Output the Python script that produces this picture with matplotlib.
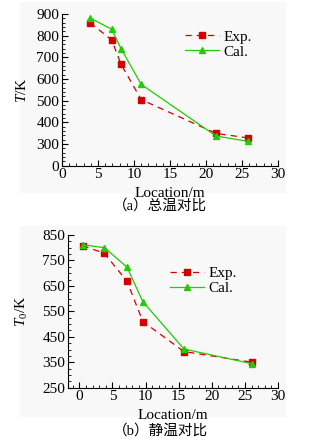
import matplotlib
matplotlib.use("Agg")
import matplotlib.pyplot as plt
from matplotlib.patches import Rectangle
from matplotlib.ticker import MultipleLocator

plt.rcParams['font.family'] = ['Liberation Serif', 'Noto Sans CJK SC']
plt.rcParams['mathtext.fontset'] = 'custom'
plt.rcParams['mathtext.it'] = 'Liberation Serif:italic'
plt.rcParams['mathtext.rm'] = 'Liberation Serif'

# (a) total temperature
a_x = [3.9, 6.9, 8.2, 11.0, 21.4, 25.9]
a_exp = [860, 780, 668, 505, 349, 328]
a_cal = [881, 830, 740, 575, 337, 312]
a_yticks = [200, 300, 400, 500, 600, 700, 800, 900]
a_ylabels = ['0', '300', '400', '500', '600', '700', '800', '900']

# (b) static temperature
b_x = [0.5, 3.8, 7.2, 9.6, 15.8, 26.1]
b_exp = [808, 778, 668, 510, 392, 350]
b_cal = [812, 800, 724, 588, 402, 344]
b_yticks = [250, 350, 450, 550, 650, 750, 850]

xticks = [0, 5, 10, 15, 20, 25, 30]

fig = plt.figure(figsize=(3.2, 4.42), dpi=100)

#light grey panels behind each plot
for y0 in [1 - 192/442, 1 - 416/442]:
	fig.patches.append(Rectangle((20/320, y0), 265/320, 190/442,
		transform=fig.transFigure, color='#f8f8f8', zorder=-1))

ax1 = fig.add_axes([62/320, 276.3/442, 216/320, 151.7/442])
ax2 = fig.add_axes([68/320, 54.3/442, 210/320, 152.7/442])

def style(ax, yminor):
	ax.set_facecolor('none')
	ax.spines['top'].set_visible(False)
	ax.spines['right'].set_visible(False)
	ax.tick_params(which='both', direction='in', labelsize=11, pad=2)
	ax.tick_params(which='major', length=4)
	ax.tick_params(which='minor', length=2)
	ax.xaxis.set_minor_locator(MultipleLocator(1))
	ax.yaxis.set_minor_locator(MultipleLocator(yminor))
	ax.set_xticks(xticks)
	ax.set_xlabel('Location/m', fontsize=11, labelpad=0)

ax1.plot(a_x, a_exp, '--s', color='#d40000', lw=0.9, ms=4.5, label='Exp.', dashes=(5, 4))
ax1.plot(a_x, a_cal, '-^', color='#22cc00', lw=0.9, ms=4.5, label='Cal.')
ax1.set_xlim(0, 30)
ax1.set_ylim(200, 900)
ax1.set_yticks(a_yticks)
ax1.set_yticklabels(a_ylabels)
style(ax1, 20)
ax1.set_ylabel('$T$/K', fontsize=11)
ax1.yaxis.set_label_coords(-0.155, 0.5)
ax1.xaxis.set_label_coords(0.5, -0.14)
ax1.legend(loc='center left', bbox_to_anchor=(0.57, 0.80), frameon=False,
	fontsize=11, borderpad=0, borderaxespad=0, handlelength=2.2,
	handletextpad=0.3, labelspacing=0.1)

ax2.plot(b_x, b_exp, '--s', color='#d40000', lw=0.9, ms=4.5, label='Exp.', dashes=(5, 4))
ax2.plot(b_x, b_cal, '-^', color='#22cc00', lw=0.9, ms=4.5, label='Cal.')
ax2.set_xlim(-1.7, 30)
ax2.set_ylim(250, 850)
ax2.set_yticks(b_yticks)
style(ax2, 25)
ax2.set_ylabel('$T_0$/K', fontsize=11)
ax2.yaxis.set_label_coords(-0.18, 0.5)
ax2.xaxis.set_label_coords(0.5, -0.14)
ax2.legend(loc='center left', bbox_to_anchor=(0.486, 0.70), frameon=False,
	fontsize=11, borderpad=0, borderaxespad=0, handlelength=2.2,
	handletextpad=0.3, labelspacing=0.1)

fig.text(0.5, 1 - 205.7/442, '（a）总温对比', ha='center', va='center', fontsize=10.5)
fig.text(0.5, 1 - 431/442, '（b）静温对比', ha='center', va='center', fontsize=10.5)

fig.savefig('out.png', dpi=100)
